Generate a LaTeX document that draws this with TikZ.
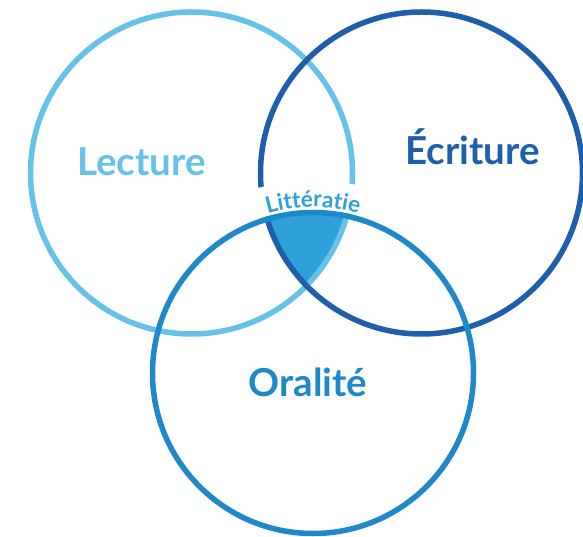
\documentclass[tikz,border=0pt]{standalone}
\usepackage{fontspec}
\usetikzlibrary{decorations.text}
\newfontfamily\latofont{Lato}
\definecolor{lectcol}{HTML}{66C2E8}
\definecolor{ecricol}{HTML}{1F5EAA}
\definecolor{oralcol}{HTML}{1E88CA}
\definecolor{litcol}{HTML}{2EA1DA}

\begin{document}
\begin{tikzpicture}[%
    x=1pt, y=1pt,
    ring/.style={line width=5.5pt},
    label/.style={anchor=base, font=\latofont\bfseries\fontsize{38.5}{38.5}\selectfont},
]

\useasboundingbox (0,0) rectangle (583,536);

\coordinate (cL) at (191.5,363);
\coordinate (cE) at (421.5,363);
\coordinate (cO) at (313,163);

% common part of the three sets
\begin{scope}
    \clip (cL) circle[radius=161];
    \clip (cE) circle[radius=161];
    \fill[litcol] (cO) circle[radius=160.5];
\end{scope}

\draw[ring, lectcol] (cL) circle[radius=161];
\draw[ring, ecricol] (cE) circle[radius=161];

% white band behind the curved label
\draw[white, line width=29.5pt] ([shift={(72:178.2)}]cO) arc[start angle=72, end angle=110, radius=178.2];

\draw[ring, oralcol] (cO) circle[radius=160.5];

\path[decorate, decoration={text along path, text align=center,
        text={|\color{litcol}\latofont\bfseries\fontsize{22.5}{22.5}\selectfont|Littératie}}]
    ([shift={(114:166)}]cO) arc[start angle=114, end angle=66, radius=166];

\node[label, text=lectcol] (lecture) at (141.5,360) {Lecture};
\node[label, text=ecricol] (ecriture) at (472.5,371) {Écriture};
\node[label, text=oralcol] (oralite) at (308,140) {Oralité};
\end{tikzpicture}
\end{document}
